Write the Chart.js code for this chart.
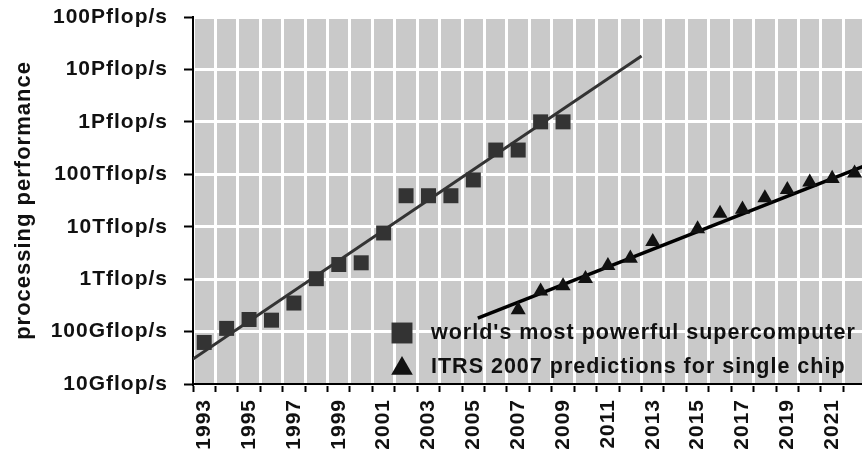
<!DOCTYPE html>
<html>
<head>
<meta charset="utf-8">
<title>processing performance</title>
<script src="https://cdn.jsdelivr.net/npm/chart.js@4.4.0/dist/chart.umd.min.js"></script>
<style>
  html, body { margin: 0; padding: 0; background: #fff; overflow: hidden; }
  #wrap { position: relative; width: 862px; height: 455px; }
</style>
</head>
<body>
<div id="wrap"><canvas id="perfChart"></canvas></div>
<script>
// values (flop/s)
const superYears = [1993, 1994, 1995, 1996, 1997, 1998, 1999, 2000, 2001, 2002, 2003, 2004, 2005, 2006, 2007, 2008, 2009];
const superPerf = [6.2e10, 1.15e11, 1.7e11, 1.65e11, 3.5e11, 1.02e12, 1.9e12, 2.05e12, 7.6e12, 3.9e13, 3.9e13, 3.9e13, 7.8e13, 2.9e14, 2.9e14, 1.0e15, 1.0e15];

const itrsYears = [2007, 2008, 2009, 2010, 2011, 2012, 2013, 2015, 2016, 2017, 2018, 2019, 2020, 2021, 2022];
const itrsPerf = [2.6e11, 5.9e11, 7.4e11, 1.02e12, 1.8e12, 2.5e12, 5.2e12, 9.1e12, 1.8e13, 2.15e13, 3.55e13, 5.1e13, 7.1e13, 8.3e13, 1.05e14];

// trend lines
const superTrendYears = [1992.5, 2012.5];
const superTrendPerf = [3.0e10, 1.8e16];
const itrsTrendYears = [2005.2, 2023];
const itrsTrendPerf = [1.8e11, 1.8e14];

const seriesNames = ["world's most powerful supercomputer", "ITRS 2007 predictions for single chip"];

const xTickYears = [1993, 1995, 1997, 1999, 2001, 2003, 2005, 2007, 2009, 2011, 2013, 2015, 2017, 2019, 2021];
const yTickValues = [1e10, 1e11, 1e12, 1e13, 1e14, 1e15, 1e16, 1e17];
const yTickLabels = ['10Gflop/s', '100Gflop/s', '1Tflop/s', '10Tflop/s', '100Tflop/s', '1Pflop/s', '10Pflop/s', '100Pflop/s'];

function toPoints(xs, ys) {
  return xs.map((x, i) => ({ x: x, y: ys[i] }));
}

const isBoundary = v => Math.abs(v - Math.floor(v) - 0.5) < 1e-6;

const plotBackground = {
  id: 'plotBackground',
  beforeDraw(chart) {
    const { ctx, chartArea } = chart;
    ctx.letterSpacing = '1px';
    ctx.save();
    ctx.fillStyle = '#c9c9c9';
    ctx.fillRect(chartArea.left, chartArea.top, chartArea.right - chartArea.left, chartArea.bottom - chartArea.top);
    ctx.restore();
  }
};

// legend sits inside the plot, lower right
const insideLegend = {
  id: 'insideLegend',
  afterDraw(chart) {
    const { ctx, chartArea } = chart;
    const mx = chartArea.right - 460;
    const tx = chartArea.right - 431;
    const rows = [
      { text: seriesNames[0], style: 'rect', radius: 14.8, color: '#333', my: chartArea.bottom - 51, ty: chartArea.bottom - 45 },
      { text: seriesNames[1], style: 'triangle', radius: 12.5, color: '#111', my: chartArea.bottom - 15.5, ty: chartArea.bottom - 11 }
    ];
    ctx.save();
    rows.forEach(r => {
      ctx.fillStyle = r.color;
      ctx.strokeStyle = r.color;
      Chart.helpers.drawPoint(ctx, { pointStyle: r.style, radius: r.radius, rotation: 0, borderWidth: 0 }, mx, r.my);
      ctx.fillStyle = '#111';
      ctx.font = "bold 21.5px 'Liberation Sans', Arial, sans-serif";
      ctx.textAlign = 'left';
      ctx.textBaseline = 'alphabetic';
      ctx.fillText(r.text, tx, r.ty);
    });
    ctx.restore();
  }
};

Chart.defaults.font.family = "'Liberation Sans', Arial, sans-serif";
Chart.defaults.font.weight = 'bold';
Chart.defaults.color = '#111';

const ctx = document.getElementById('perfChart').getContext('2d');
new Chart(ctx, {
  type: 'scatter',
  data: {
    datasets: [
      {
        label: seriesNames[0],
        data: toPoints(superYears, superPerf),
        pointStyle: 'rect',
        pointRadius: 10.6,
        backgroundColor: '#333',
        borderColor: '#333',
        borderWidth: 0,
        showLine: false
      },
      {
        label: 'supercomputer trend',
        data: toPoints(superTrendYears, superTrendPerf),
        showLine: true,
        borderColor: '#333',
        borderWidth: 3,
        pointRadius: 0
      },
      {
        label: seriesNames[1],
        data: toPoints(itrsYears, itrsPerf),
        pointStyle: 'triangle',
        pointRadius: 8.7,
        backgroundColor: '#111',
        borderColor: '#111',
        borderWidth: 0,
        showLine: false
      },
      {
        label: 'ITRS trend',
        data: toPoints(itrsTrendYears, itrsTrendPerf),
        showLine: true,
        borderColor: '#000',
        borderWidth: 3.5,
        pointRadius: 0
      }
    ]
  },
  options: {
    responsive: true,
    maintainAspectRatio: false,
    animation: false,
    events: [],
    layout: { autoPadding: false, padding: { top: 17, left: 0, right: 0, bottom: 0 } },
    plugins: {
      legend: { display: false },
      tooltip: { enabled: false }
    },
    scales: {
      x: {
        type: 'linear',
        min: 1992.5,
        max: 2022.33,
        bounds: 'data',
        afterBuildTicks: axis => {
          const ticks = [];
          for (let v = 1992.5; v <= 2021.5; v += 0.5) ticks.push({ value: v });
          axis.ticks = ticks;
        },
        afterFit: s => { s.height = 71; s.paddingLeft = 0; s.paddingRight = 0; },
        grid: {
          color: c => isBoundary(c.tick.value) ? '#fff' : 'rgba(0,0,0,0)',
          lineWidth: 3,
          tickColor: c => isBoundary(c.tick.value) ? '#000' : 'rgba(0,0,0,0)',
          tickLength: 8,
          tickWidth: 2
        },
        border: { display: true, color: '#000', width: 2 },
        ticks: {
          autoSkip: false,
          minRotation: 90,
          maxRotation: 90,
          padding: 7,
          font: { size: 21, weight: 'bold' },
          callback: v => xTickYears.includes(v) ? String(v) : ''
        }
      },
      y: {
        type: 'logarithmic',
        min: 1e10,
        max: 1e17,
        afterBuildTicks: axis => {
          axis.ticks = yTickValues.map(v => ({ value: v }));
        },
        afterFit: s => { s.width = 193; s.paddingTop = 0; s.paddingBottom = 0; },
        grid: {
          color: '#fff',
          lineWidth: 3,
          tickColor: '#000',
          tickLength: 9,
          tickWidth: 2
        },
        border: { display: true, color: '#000', width: 2 },
        ticks: {
          autoSkip: false,
          padding: 16,
          font: { size: 21, weight: 'bold' },
          callback: (v, i) => yTickLabels[i]
        },
        title: {
          display: true,
          text: 'processing performance',
          padding: { top: 11, bottom: 0 },
          font: { size: 22, weight: 'bold' }
        }
      }
    }
  },
  plugins: [plotBackground, insideLegend]
});
</script>
</body>
</html>
